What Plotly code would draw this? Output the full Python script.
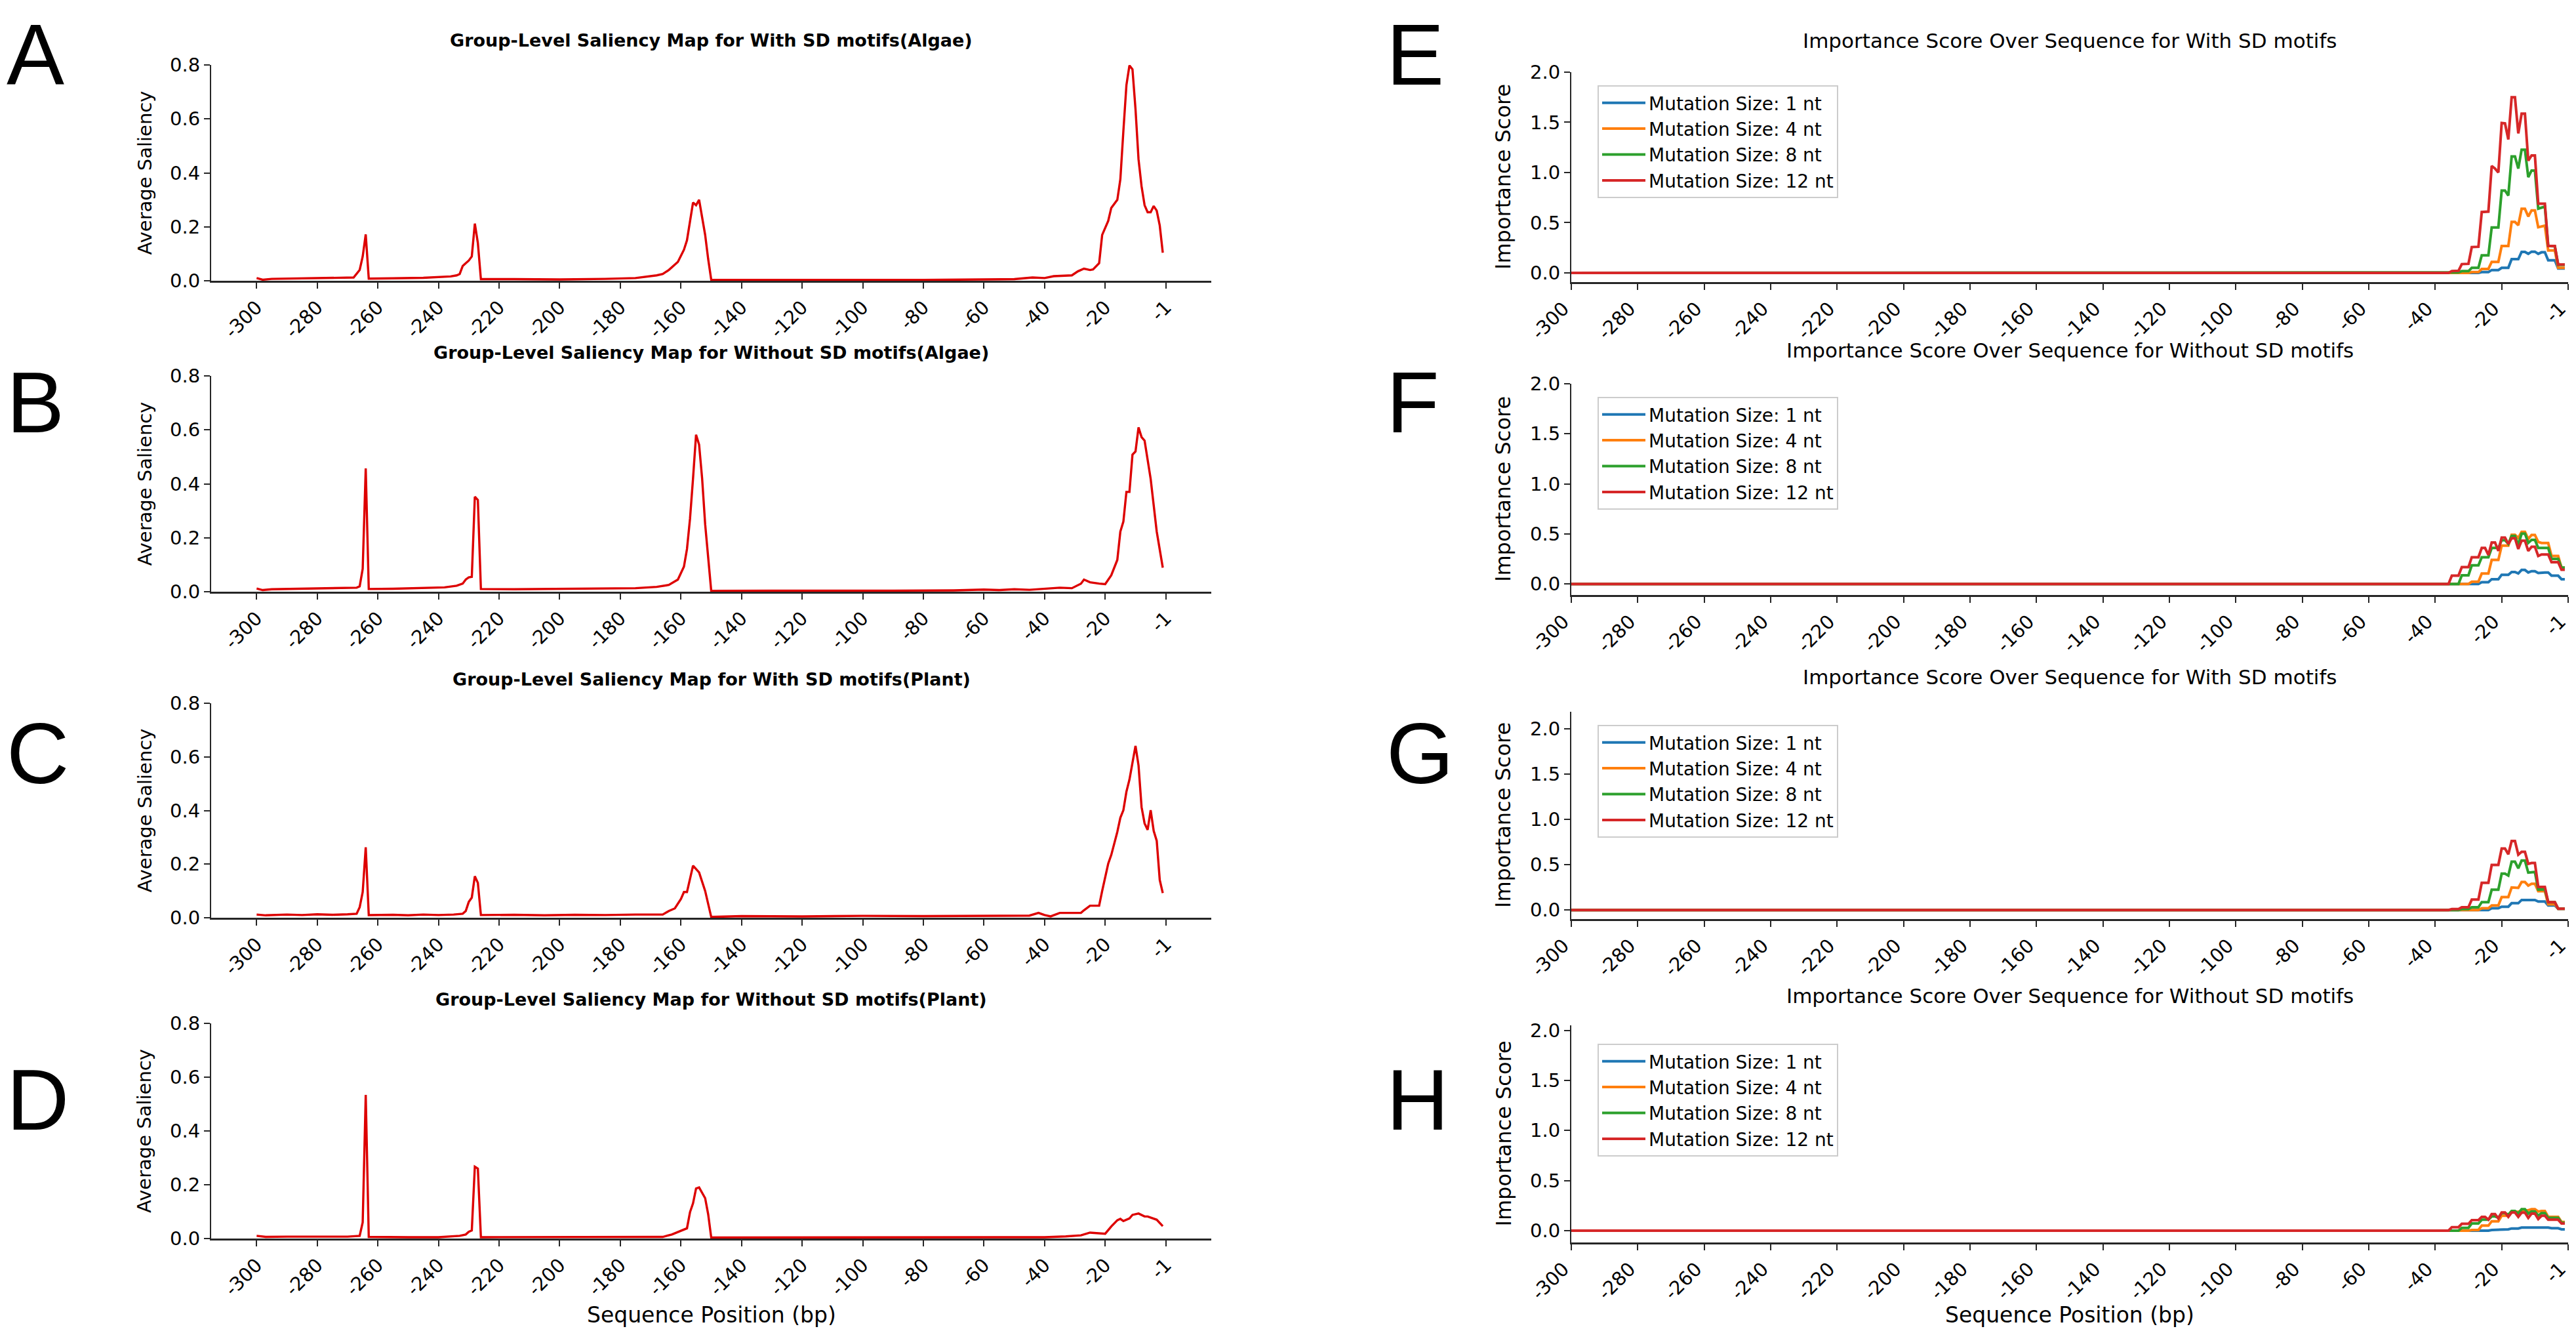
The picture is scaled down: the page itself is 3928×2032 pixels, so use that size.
import plotly.graph_objects as go

# The page body keeps an 8 px margin; the figure fills the rest of the 3928x2032 window.
OFF = 8
FIG_W, FIG_H = 3928 - OFF, 2032 - OFF

# ---------------- tick labels ----------------
X_TICK_VALS = [-300, -280, -260, -240, -220, -200, -180, -160, -140, -120, -100, -80, -60, -40, -20, 0]
X_TICK_TEXT = ["-300", "-280", "-260", "-240", "-220", "-200", "-180", "-160", "-140", "-120",
               "-100", "-80", "-60", "-40", "-20", "-1"]
LEFT_Y_TICKS = [0.0, 0.2, 0.4, 0.6, 0.8]
RIGHT_Y_TICKS = [0.0, 0.5, 1.0, 1.5, 2.0]

# ---------------- left column: group-level saliency ----------------
A_x = [-300, -298, -295, -285, -275, -268, -266, -265, -264, -263, -255, -245, -236, -234, -233, -232, -231,
       -230, -229, -228, -227, -226, -215, -200, -185, -175, -168, -166, -164, -161, -159, -158, -156, -155,
       -154, -153, -152, -151, -150, -140, -120, -100, -80, -60, -50, -44, -40, -37, -31, -29, -27, -25, -24,
       -22, -21, -19, -18, -16, -15, -14, -13, -12, -11, -10, -9, -8, -7, -6, -5, -4, -3, -2, -1]
A_y = [0.010, 0.004, 0.007, 0.009, 0.010, 0.012, 0.040, 0.090, 0.172, 0.008, 0.009, 0.011, 0.016, 0.020,
       0.025, 0.055, 0.065, 0.075, 0.090, 0.212, 0.140, 0.006, 0.006, 0.005, 0.007, 0.010, 0.020, 0.025,
       0.040, 0.070, 0.115, 0.150, 0.290, 0.280, 0.300, 0.240, 0.170, 0.080, 0.004, 0.003, 0.004, 0.003,
       0.003, 0.004, 0.006, 0.012, 0.010, 0.017, 0.020, 0.035, 0.045, 0.040, 0.042, 0.065, 0.170, 0.222,
       0.270, 0.300, 0.376, 0.555, 0.725, 0.798, 0.784, 0.636, 0.450, 0.350, 0.280, 0.254, 0.254, 0.277,
       0.260, 0.205, 0.104]

B_x = [-300, -298, -295, -285, -275, -267, -266, -265, -264, -263, -255, -245, -238, -234, -232, -231, -230,
       -229, -228, -227, -226, -215, -200, -185, -175, -168, -164, -161, -159, -158, -157, -156, -155, -154,
       -153, -152, -151, -150, -130, -110, -90, -70, -60, -55, -50, -45, -40, -35, -31, -28, -27, -25, -22,
       -20, -18, -16, -15, -14, -13, -12, -11, -10, -9, -8, -7, -5, -3, -1]
B_y = [0.012, 0.006, 0.009, 0.011, 0.013, 0.015, 0.020, 0.085, 0.457, 0.010, 0.011, 0.013, 0.016, 0.022,
       0.030, 0.045, 0.053, 0.055, 0.352, 0.340, 0.010, 0.009, 0.010, 0.011, 0.013, 0.018, 0.025, 0.045,
       0.093, 0.158, 0.270, 0.420, 0.582, 0.545, 0.420, 0.250, 0.120, 0.003, 0.004, 0.003, 0.004, 0.005,
       0.008, 0.006, 0.009, 0.007, 0.012, 0.015, 0.013, 0.030, 0.045, 0.035, 0.030, 0.028, 0.061, 0.118,
       0.223, 0.260, 0.370, 0.370, 0.508, 0.520, 0.609, 0.573, 0.560, 0.418, 0.223, 0.089]

C_x = [-300, -297, -290, -285, -280, -275, -270, -267, -266, -265, -264, -263, -255, -250, -245, -240, -235,
       -232, -231, -230, -229, -228, -227, -226, -215, -205, -195, -185, -175, -166, -164, -162, -160, -159,
       -158, -157, -156, -154, -152, -150, -140, -120, -100, -80, -60, -50, -45, -42, -40, -38, -35, -28,
       -27, -25, -22, -21, -19, -18, -16, -15, -14, -13, -12, -10, -9, -8, -7, -6, -5, -4, -3, -2, -1]
C_y = [0.012, 0.009, 0.012, 0.010, 0.013, 0.011, 0.013, 0.015, 0.039, 0.096, 0.263, 0.010, 0.011, 0.009,
       0.012, 0.010, 0.012, 0.015, 0.025, 0.059, 0.075, 0.155, 0.130, 0.010, 0.011, 0.009, 0.011, 0.010,
       0.012, 0.012, 0.025, 0.035, 0.070, 0.096, 0.096, 0.150, 0.194, 0.169, 0.100, 0.003, 0.006, 0.005,
       0.007, 0.006, 0.007, 0.006, 0.008, 0.018, 0.010, 0.005, 0.018, 0.018, 0.028, 0.045, 0.045, 0.100,
       0.202, 0.234, 0.320, 0.373, 0.401, 0.470, 0.515, 0.641, 0.568, 0.413, 0.352, 0.328, 0.401, 0.324,
       0.287, 0.141, 0.092]

D_x = [-300, -297, -290, -280, -270, -266, -265, -264, -263, -250, -240, -233, -231, -230, -229, -228, -227,
       -226, -210, -190, -175, -166, -163, -161, -158, -157, -156, -155, -154, -152, -151, -150, -130, -110,
       -90, -70, -50, -40, -33, -28, -25, -22, -20, -18, -16, -15, -14, -12, -11, -9, -8, -7, -6, -4, -3, -1]
D_y = [0.010, 0.006, 0.007, 0.008, 0.007, 0.010, 0.060, 0.534, 0.006, 0.005, 0.005, 0.010, 0.015, 0.025,
       0.030, 0.267, 0.260, 0.005, 0.005, 0.005, 0.005, 0.006, 0.015, 0.025, 0.038, 0.098, 0.131, 0.186,
       0.190, 0.150, 0.090, 0.004, 0.004, 0.004, 0.004, 0.004, 0.004, 0.005, 0.008, 0.012, 0.022, 0.020,
       0.018, 0.045, 0.068, 0.073, 0.065, 0.075, 0.088, 0.093, 0.088, 0.082, 0.082, 0.075, 0.070, 0.046]

LEFT_TITLES = ["Group-Level Saliency Map for With SD motifs(Algae)",
               "Group-Level Saliency Map for Without SD motifs(Algae)",
               "Group-Level Saliency Map for With SD motifs(Plant)",
               "Group-Level Saliency Map for Without SD motifs(Plant)"]

# ---------------- right column: mutation importance ----------------
LEAD_POS = [-300, -36]
LEAD_VAL = [0.0, 0.0]
TAIL_POS = [-35, -34, -33, -32, -31, -30, -29, -28, -27, -26, -25, -24, -23, -22, -21, -20, -19, -18,
            -17, -16, -15, -14, -13, -12, -11, -10, -9, -8, -7, -6, -5, -4, -3, -2, -1]

E_1nt = [0, 0, 0, 0, 0, 0, 0, 0, 0, 0.007, 0.007, 0.007, 0.028, 0.028, 0.028, 0.05, 0.05, 0.05,
         0.137, 0.137, 0.137, 0.209, 0.209, 0.19, 0.211, 0.211, 0.19, 0.205, 0.205, 0.126,
         0.126, 0.126, 0.044, 0.044, 0.044]
E_4nt = [0, 0, 0, 0, 0, 0, 0.007, 0.007, 0.007, 0.039, 0.039, 0.039, 0.109, 0.109, 0.109, 0.268, 0.268, 0.268,
         0.508, 0.508, 0.475, 0.638, 0.638, 0.562, 0.623, 0.623, 0.455, 0.46, 0.47, 0.224,
         0.224, 0.224, 0.05, 0.05, 0.05]
E_8nt = [0.0, 0.003, 0.005, 0.017, 0.017, 0.017, 0.05, 0.05, 0.05, 0.174, 0.174, 0.174, 0.453, 0.453, 0.453,
         0.82, 0.82, 0.77, 1.16, 1.16, 1.04, 1.227, 1.227, 0.954, 1.02, 1.02, 0.64, 0.65, 0.66, 0.268,
         0.265, 0.265, 0.08, 0.08, 0.08]
E_12nt = [0.017, 0.017, 0.02, 0.087, 0.087, 0.09, 0.257, 0.257, 0.26, 0.606, 0.606, 0.61, 1.065, 1.04, 1.0,
          1.494, 1.49, 1.33, 1.75, 1.75, 1.39, 1.586, 1.586, 1.118, 1.17, 1.17, 0.69, 0.69, 0.69, 0.268,
          0.268, 0.268, 0.083, 0.083, 0.083]

F_1nt = [0, 0, 0, 0, 0, 0, 0, 0, 0, 0.018, 0.018, 0.018, 0.048, 0.048, 0.048, 0.092, 0.092, 0.092,
         0.12, 0.12, 0.105, 0.14, 0.14, 0.115, 0.128, 0.128, 0.11, 0.115, 0.115, 0.115,
         0.083, 0.083, 0.083, 0.048, 0.048]
F_4nt = [0, 0, 0, 0, 0, 0, 0.022, 0.022, 0.022, 0.105, 0.105, 0.105, 0.24, 0.24, 0.24, 0.383, 0.383, 0.383,
         0.492, 0.492, 0.46, 0.52, 0.52, 0.45, 0.49, 0.49, 0.42, 0.41, 0.41, 0.41,
         0.28, 0.28, 0.28, 0.164, 0.164]
F_8nt = [0, 0, 0, 0.087, 0.087, 0.087, 0.186, 0.186, 0.186, 0.267, 0.267, 0.267, 0.36, 0.36, 0.36,
         0.437, 0.437, 0.40, 0.48, 0.48, 0.39, 0.503, 0.503, 0.41, 0.44, 0.44, 0.36, 0.36, 0.36, 0.36,
         0.251, 0.251, 0.251, 0.164, 0.164]
F_12nt = [0.083, 0.083, 0.083, 0.168, 0.168, 0.168, 0.267, 0.267, 0.267, 0.36, 0.36, 0.29, 0.415, 0.415, 0.33,
          0.463, 0.463, 0.40, 0.457, 0.457, 0.35, 0.433, 0.433, 0.33, 0.372, 0.372, 0.28, 0.295, 0.295, 0.295,
          0.218, 0.218, 0.218, 0.142, 0.142]

G_1nt = [0, 0, 0, 0, 0, 0, 0, 0, 0, 0, 0, 0, 0.02, 0.02, 0.02, 0.036, 0.036, 0.036,
         0.075, 0.075, 0.075, 0.111, 0.111, 0.105, 0.111, 0.111, 0.094, 0.094, 0.094, 0.05,
         0.05, 0.05, 0.014, 0.014, 0.014]
G_4nt = [0, 0, 0, 0, 0, 0, 0, 0, 0, 0.02, 0.02, 0.02, 0.05, 0.05, 0.05, 0.143, 0.143, 0.143,
         0.249, 0.249, 0.245, 0.309, 0.309, 0.27, 0.29, 0.29, 0.208, 0.208, 0.208, 0.063,
         0.063, 0.063, 0.014, 0.014, 0.014]
G_8nt = [0, 0, 0, 0.01, 0.01, 0.01, 0.03, 0.03, 0.03, 0.087, 0.087, 0.087, 0.225, 0.225, 0.225,
         0.401, 0.401, 0.38, 0.534, 0.534, 0.46, 0.546, 0.546, 0.413, 0.42, 0.42, 0.226, 0.226, 0.226, 0.087,
         0.087, 0.087, 0.014, 0.014, 0.014]
G_12nt = [0.01, 0.01, 0.01, 0.03, 0.03, 0.03, 0.116, 0.116, 0.116, 0.3, 0.3, 0.3, 0.498, 0.498, 0.498,
          0.679, 0.679, 0.616, 0.763, 0.763, 0.611, 0.643, 0.643, 0.51, 0.519, 0.519, 0.256, 0.256, 0.256,
          0.087, 0.087, 0.087, 0.014, 0.014, 0.014]

H_1nt = [0, 0, 0, 0, 0, 0, 0, 0, 0, 0, 0, 0, 0.007, 0.007, 0.007, 0.013, 0.013, 0.013,
         0.022, 0.022, 0.022, 0.031, 0.031, 0.031, 0.033, 0.033, 0.033, 0.031, 0.031, 0.031,
         0.024, 0.024, 0.024, 0.013, 0.013]
H_4nt = [0, 0, 0, 0, 0, 0, 0.007, 0.007, 0.007, 0.05, 0.05, 0.05, 0.094, 0.094, 0.094, 0.149, 0.149, 0.149,
         0.188, 0.188, 0.188, 0.203, 0.203, 0.203, 0.214, 0.214, 0.19, 0.197, 0.197, 0.138,
         0.138, 0.138, 0.138, 0.087, 0.087]
H_8nt = [0, 0, 0, 0.028, 0.028, 0.028, 0.072, 0.072, 0.072, 0.109, 0.109, 0.109, 0.142, 0.142, 0.13,
         0.175, 0.175, 0.16, 0.197, 0.197, 0.17, 0.214, 0.214, 0.17, 0.192, 0.192, 0.15, 0.175, 0.175, 0.127,
         0.127, 0.127, 0.127, 0.079, 0.079]
H_12nt = [0.035, 0.035, 0.035, 0.068, 0.068, 0.068, 0.105, 0.105, 0.105, 0.138, 0.138, 0.11, 0.166, 0.166, 0.122,
          0.181, 0.181, 0.138, 0.181, 0.181, 0.138, 0.18, 0.18, 0.127, 0.17, 0.17, 0.116, 0.149, 0.149, 0.109,
          0.109, 0.109, 0.109, 0.072, 0.072]

SERIES_NAMES = ["Mutation Size: 1 nt", "Mutation Size: 4 nt", "Mutation Size: 8 nt", "Mutation Size: 12 nt"]
SERIES_COLORS = ["#1f77b4", "#ff7f0e", "#2ca02c", "#d62728"]
RIGHT_TITLES = ["Importance Score Over Sequence for With SD motifs",
                "Importance Score Over Sequence for Without SD motifs",
                "Importance Score Over Sequence for With SD motifs",
                "Importance Score Over Sequence for Without SD motifs"]

# ---------------- layout geometry (reference pixels) ----------------
def xp(px):
    return (px - OFF) / FIG_W


def yp(py):
    return 1 - (py - OFF) / FIG_H


LEFT_X_PX = (322, 1847)
RIGHT_X_PX = (2396, 3916)
LEFT_Y_PX = [(99, 428), (573, 902), (1072, 1399), (1560, 1888)]
RIGHT_Y_PX = [(110, 430), (585, 907), (1085, 1401), (1563, 1894)]
RIGHT_YRANGE = [(-0.092, 2.0), (-0.11, 2.0), (-0.10, 2.19), (-0.118, 2.05)]
LEFT_TITLE_Y = [62, 537, 1035, 1523]
RIGHT_TITLE_Y = [62, 534, 1032, 1518]
LEGEND_TOP = [130, 605, 1105, 1591]
LETTER_Y = [45, 625, 1160, 1688]

FONT = "DejaVu Sans"
AX_COLOR = "#262626"

fig = go.Figure()

left_data = [(A_x, A_y), (B_x, B_y), (C_x, C_y), (D_x, D_y)]
for i, (xs, ys) in enumerate(left_data):
    k = i + 1
    fig.add_trace(go.Scatter(x=xs, y=ys, mode="lines", line=dict(color="#dd0000", width=3.4),
                             xaxis="x" if k == 1 else f"x{k}", yaxis="y" if k == 1 else f"y{k}",
                             showlegend=False, hoverinfo="skip"))

right_data = [[E_1nt, E_4nt, E_8nt, E_12nt], [F_1nt, F_4nt, F_8nt, F_12nt],
              [G_1nt, G_4nt, G_8nt, G_12nt], [H_1nt, H_4nt, H_8nt, H_12nt]]
for i, series in enumerate(right_data):
    k = i + 5
    leg = "legend" if i == 0 else f"legend{i + 1}"
    for name, color, vals in zip(SERIES_NAMES, SERIES_COLORS, series):
        fig.add_trace(go.Scatter(x=LEAD_POS + TAIL_POS, y=LEAD_VAL + vals, mode="lines",
                                 line=dict(color=color, width=4), name=name,
                                 xaxis=f"x{k}", yaxis=f"y{k}", legend=leg, showlegend=True,
                                 hoverinfo="skip"))

layout = dict(template="none", width=FIG_W, height=FIG_H, autosize=False,
              margin=dict(l=0, r=0, t=0, b=0, pad=0),
              paper_bgcolor="white", plot_bgcolor="white", annotations=[])

tickfont = dict(family=FONT, size=29, color="black")
for i in range(8):
    k = i + 1
    xname = "xaxis" if k == 1 else f"xaxis{k}"
    yname = "yaxis" if k == 1 else f"yaxis{k}"
    if i < 4:
        xd = LEFT_X_PX
        top, bot = LEFT_Y_PX[i]
        xr = [-315, 15]
        yr = [0, 0.8]
        yticks = LEFT_Y_TICKS
        shift = 0
    else:
        xd = RIGHT_X_PX
        top, bot = RIGHT_Y_PX[i - 4]
        xr = [-300, 0]
        yr = list(RIGHT_YRANGE[i - 4])
        yticks = RIGHT_Y_TICKS
        shift = -12
    layout[xname] = dict(domain=[xp(xd[0]), xp(xd[1])], range=xr, anchor="y" if k == 1 else f"y{k}",
                         tickmode="array", tickvals=X_TICK_VALS, ticktext=X_TICK_TEXT, tickangle=-45,
                         ticklabelshift=shift,
                         showgrid=False, zeroline=False, showline=True, linecolor=AX_COLOR, linewidth=3,
                         ticks="outside", ticklen=9, tickwidth=2, tickcolor=AX_COLOR, tickfont=tickfont,
                         automargin=False, ticklabeloverflow="allow", fixedrange=True)
    layout[yname] = dict(domain=[yp(bot), yp(top)], range=yr, anchor="x" if k == 1 else f"x{k}",
                         tickmode="array", tickvals=yticks, ticktext=[f"{v:.1f}" for v in yticks],
                         showgrid=False, zeroline=False, showline=True, linecolor=AX_COLOR, linewidth=2,
                         ticks="outside", ticklen=9, tickwidth=2, tickcolor=AX_COLOR, tickfont=tickfont,
                         automargin=False, ticklabeloverflow="allow", fixedrange=True)

ann = layout["annotations"]
lx_c = (LEFT_X_PX[0] + LEFT_X_PX[1]) / 2
rx_c = (RIGHT_X_PX[0] + RIGHT_X_PX[1]) / 2
for i in range(4):
    ann.append(dict(text=f"<b>{LEFT_TITLES[i]}</b>", x=xp(lx_c), y=yp(LEFT_TITLE_Y[i]), xref="paper",
                    yref="paper", xanchor="center", yanchor="middle", showarrow=False,
                    font=dict(family=FONT, size=27, color="black")))
    ann.append(dict(text=RIGHT_TITLES[i], x=xp(rx_c), y=yp(RIGHT_TITLE_Y[i]), xref="paper",
                    yref="paper", xanchor="center", yanchor="middle", showarrow=False,
                    font=dict(family=FONT, size=31, color="black")))
    ltop, lbot = LEFT_Y_PX[i]
    ann.append(dict(text="Average Saliency", x=xp(220), y=yp((ltop + lbot) / 2), xref="paper",
                    yref="paper", xanchor="center", yanchor="middle", textangle=-90, showarrow=False,
                    font=dict(family=FONT, size=29, color="black")))
    rtop, rbot = RIGHT_Y_PX[i]
    ann.append(dict(text="Importance Score", x=xp(2292), y=yp((rtop + rbot) / 2), xref="paper",
                    yref="paper", xanchor="center", yanchor="middle", textangle=-90, showarrow=False,
                    font=dict(family=FONT, size=32, color="black")))
    if i == 0:
        ly, yanc = 1.0, "top"
    else:
        ly, yanc = yp(LETTER_Y[i] - 12), "middle"
    ann.append(dict(text="ABCD"[i], x=xp(8), y=ly, xref="paper", yref="paper",
                    xanchor="left", yanchor=yanc, showarrow=False,
                    font=dict(family="Liberation Sans", size=132, color="black")))
    ann.append(dict(text="EFGH"[i], x=xp(2112), y=ly, xref="paper", yref="paper",
                    xanchor="left", yanchor=yanc, showarrow=False,
                    font=dict(family="Liberation Sans", size=132, color="black")))
    lname = "legend" if i == 0 else f"legend{i + 1}"
    layout[lname] = dict(x=xp(2436), y=yp(LEGEND_TOP[i]), xanchor="left", yanchor="top",
                         bgcolor="rgba(255,255,255,0.9)", bordercolor="#cccccc", borderwidth=2,
                         font=dict(family=FONT, size=28, color="black"), itemwidth=66,
                         tracegroupgap=0)

for xc in (lx_c, rx_c):
    ann.append(dict(text="Sequence Position (bp)", x=xp(xc), y=yp(2004), xref="paper", yref="paper",
                    xanchor="center", yanchor="middle", showarrow=False,
                    font=dict(family=FONT, size=33, color="black")))

fig.update_layout(**layout)
fig.write_html("out.html")
